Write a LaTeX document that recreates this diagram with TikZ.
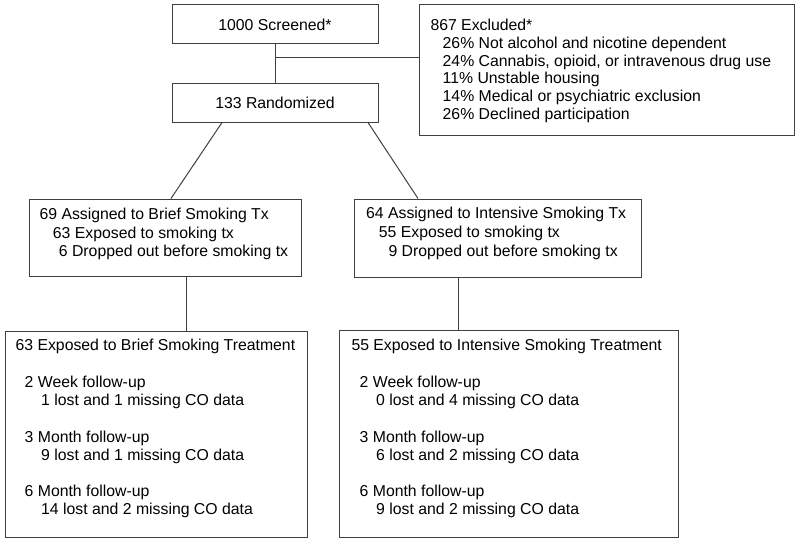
\documentclass[tikz,border=0pt]{standalone}
\usepackage{fontspec}
\setmainfont{Liberation Sans}
\begin{document}
\begin{tikzpicture}[x=1pt,y=-1pt,
  box/.style={draw=black!75, line width=1pt, inner sep=0pt, fill=none},
  conn/.style={draw=black!75, line width=1pt},
  txt/.style={anchor=base west, inner sep=0pt, font=\fontsize{15.8}{17.6}\selectfont},
  ctxt/.style={font=\fontsize{15.8}{17.6}\selectfont}]
\useasboundingbox (0,0) rectangle (800,543);
% boxes
\node[box, ctxt, minimum width=206pt, minimum height=39pt] (b1) at (275,24.5) {1000 Screened*};
\node[box, ctxt, minimum width=206pt, minimum height=39pt] (b2) at (275,102.5) {133 Randomized};
\node[box, minimum width=375pt, minimum height=130pt] (ex) at (606.5,70) {};
\node[box, minimum width=272pt, minimum height=77pt] (b3) at (165,237.5) {};
\node[box, minimum width=287pt, minimum height=78pt] (b4) at (497.5,238) {};
\node[box, minimum width=302pt, minimum height=206pt] (b5) at (156,434) {};
\node[box, minimum width=339pt, minimum height=207pt] (b6) at (508.5,433.5) {};
% excluded text
\node[txt] (e0) at (430.3,31) {867 Excluded*};
\node[txt] (e1) at (442.5,48.6) {26\% Not alcohol and nicotine dependent};
\node[txt] (e2) at (442.5,66.2) {24\% Cannabis, opioid, or intravenous drug use};
\node[txt] (e3) at (442.5,83.8) {11\% Unstable housing};
\node[txt] (e4) at (442.5,101.4) {14\% Medical or psychiatric exclusion};
\node[txt] (e5) at (442.5,119) {26\% Declined participation};
% arm boxes
\node[txt] (l1) at (39.4,219.5) {69 Assigned to Brief Smoking Tx};
\node[txt] (l2) at (52.7,238) {63 Exposed to smoking tx};
\node[txt] (l3) at (58.7,256.7) {6 Dropped out before smoking tx};
\node[txt] (r1) at (366,218.5) {64 Assigned to Intensive Smoking Tx};
\node[txt] (r2) at (378.7,237) {55 Exposed to smoking tx};
\node[txt] (r3) at (388.3,256) {9 Dropped out before smoking tx};
% follow-up boxes
\node[txt] (f0) at (15.4,350) {63 Exposed to Brief Smoking Treatment};
\node[txt] (f1) at (24.5,387) {2 Week follow-up};
\node[txt] (f2) at (41,405.3) {1 lost and 1 missing CO data};
\node[txt] (f3) at (24.5,442) {3 Month follow-up};
\node[txt] (f4) at (41,460) {9 lost and 1 missing CO data};
\node[txt] (f5) at (24.5,496.5) {6 Month follow-up};
\node[txt] (f6) at (41,514.5) {14 lost and 2 missing CO data};
\node[txt] (g0) at (351.3,350) {55 Exposed to Intensive Smoking Treatment};
\node[txt] (g1) at (359.5,387) {2 Week follow-up};
\node[txt] (g2) at (376,405.3) {0 lost and 4 missing CO data};
\node[txt] (g3) at (359.5,442) {3 Month follow-up};
\node[txt] (g4) at (376,460) {6 lost and 2 missing CO data};
\node[txt] (g5) at (359.5,496.5) {6 Month follow-up};
\node[txt] (g6) at (376,514.5) {9 lost and 2 missing CO data};
% connectors
\draw[conn] (b1.south) -- (b2.north);
\coordinate (j) at (275,58);
\draw[conn] (j) -- (j -| ex.west);
\draw[conn] ([xshift=-53pt]b2.south) -- ([xshift=6pt]b3.north);
\draw[conn] ([xshift=93pt]b2.south) -- ([xshift=-79.5pt]b4.north);
\draw[conn] ([xshift=21pt]b3.south) -- ([xshift=21pt]b3.south |- b5.north);
\draw[conn] ([xshift=-39.5pt]b4.south) -- ([xshift=-39.5pt]b4.south |- b6.north);
\end{tikzpicture}
\end{document}
